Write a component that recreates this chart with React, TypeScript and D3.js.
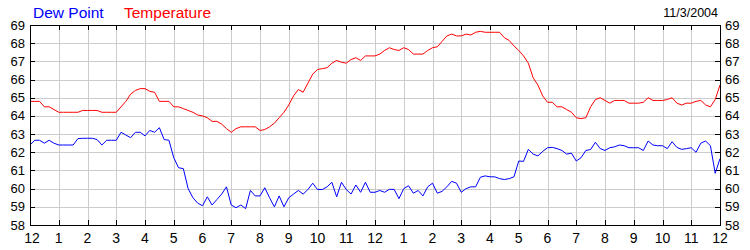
import React from "react";
import * as d3 from "d3";

// 10-minute readings from 12 AM to 12 AM (145 points)
const temperature: number[] = [
  64.8, 64.8, 64.8, 64.5, 64.5, 64.35, // 0h
  64.2, 64.2, 64.2, 64.2, 64.2, 64.3, // 1h
  64.3, 64.3, 64.3, 64.2, 64.2, 64.2, // 2h
  64.2, 64.5, 64.8, 65.2, 65.4, 65.5, // 3h
  65.5, 65.35, 65.3, 64.8, 64.8, 64.8, // 4h
  64.5, 64.5, 64.4, 64.3, 64.2, 64.05, // 5h
  64.0, 63.9, 63.7, 63.7, 63.55, 63.3, // 6h
  63.1, 63.3, 63.4, 63.4, 63.4, 63.4, // 7h
  63.2, 63.25, 63.4, 63.6, 63.9, 64.2, // 8h
  64.6, 65.1, 65.45, 65.3, 65.8, 66.3, // 9h
  66.55, 66.6, 66.65, 66.9, 67.05, 66.95, // 10h
  66.9, 67.1, 67.2, 67.05, 67.3, 67.3, // 11h
  67.3, 67.4, 67.6, 67.75, 67.65, 67.6, // 12h
  67.75, 67.65, 67.4, 67.4, 67.4, 67.6, // 13h
  67.75, 67.8, 68.1, 68.4, 68.5, 68.4, // 14h
  68.4, 68.5, 68.45, 68.6, 68.65, 68.6, // 15h
  68.6, 68.6, 68.6, 68.3, 68.15, 67.85, // 16h
  67.6, 67.3, 66.9, 66.1, 65.7, 65.1, // 17h
  64.75, 64.75, 64.5, 64.5, 64.35, 64.2, // 18h
  63.9, 63.85, 63.9, 64.5, 64.9, 65.0, // 19h
  64.85, 64.7, 64.85, 64.85, 64.85, 64.7, // 20h
  64.7, 64.7, 64.75, 65.0, 64.85, 64.85, // 21h
  64.85, 64.9, 65.0, 64.7, 64.6, 64.7, // 22h
  64.7, 64.8, 64.85, 64.6, 64.5, 64.9, // 23h
  65.7,
];

const dewPoint: number[] = [
  62.4, 62.66, 62.66, 62.5, 62.66, 62.5, // 0h
  62.4, 62.4, 62.4, 62.4, 62.75, 62.77, // 1h
  62.77, 62.77, 62.7, 62.4, 62.66, 62.66, // 2h
  62.66, 63.1, 62.95, 62.8, 63.1, 63.1, // 3h
  62.9, 63.2, 63.1, 63.35, 62.7, 62.66, // 4h
  61.7, 61.15, 61.1, 60.0, 59.5, 59.2, // 5h
  59.06, 59.55, 59.1, 59.4, 59.7, 60.1, // 6h
  59.1, 58.95, 59.1, 58.9, 59.9, 59.6, // 7h
  59.6, 60.05, 59.5, 59.0, 59.6, 59.0, // 8h
  59.5, 59.7, 59.9, 59.7, 59.95, 60.3, // 9h
  59.95, 59.95, 60.1, 60.35, 59.55, 60.35, // 10h
  59.95, 59.7, 60.2, 59.8, 60.35, 59.8, // 11h
  59.8, 59.9, 59.8, 59.96, 59.96, 59.45, // 12h
  60.0, 60.16, 59.75, 59.9, 59.6, 60.1, // 13h
  60.3, 59.75, 59.85, 60.1, 60.4, 60.3, // 14h
  59.8, 60.0, 60.1, 60.1, 60.63, 60.7, // 15h
  60.65, 60.65, 60.55, 60.5, 60.55, 60.65, // 16h
  61.52, 61.5, 62.16, 61.9, 61.8, 62.05, // 17h
  62.25, 62.27, 62.2, 62.1, 61.9, 61.95, // 18h
  61.52, 61.7, 62.1, 62.15, 62.55, 62.2, // 19h
  62.1, 62.25, 62.3, 62.4, 62.36, 62.25, // 20h
  62.25, 62.25, 62.1, 62.62, 62.4, 62.36, // 21h
  62.36, 62.2, 62.58, 62.27, 62.16, 62.2, // 22h
  62.25, 62.0, 62.5, 62.62, 62.36, 60.84, // 23h
  61.65,
];

const hourLabels: string[] = ["12", "1", "2", "3", "4", "5", "6", "7", "8", "9", "10", "11", "12", "1", "2", "3", "4", "5", "6", "7", "8", "9", "10", "11", "12"];
const yTicks: number[] = [58, 59, 60, 61, 62, 63, 64, 65, 66, 67, 68, 69];
const dateLabel = "11/3/2004";
const seriesNames = ["Dew Point", "Temperature"];

const W = 750;
const H = 250;
const L = 30;
const R = 720;
const T = 25;
const B = 225;
const FONT = "'Liberation Sans', Arial, sans-serif";

export default function App() {
  const x = d3.scaleLinear().domain([0, 24]).range([L, R]);
  const y = d3.scaleLinear().domain([58, 69]).range([B, T]);
  const hours = hourLabels.map((_, i) => i);
  const line = d3
    .line<number>()
    .x((_, i) => x(i / 6))
    .y((d) => y(d));

  const px = (v: number) => Math.round(v) + 0.5;

  return (
    <svg
      width={W}
      height={H}
      style={{ position: "absolute", left: 0, top: 0, background: "#fff" }}
      fontFamily={FONT}
    >
      <rect x={0} y={0} width={W} height={H} fill="#fff" />
      {/* grid */}
      {hours.slice(1, -1).map((h) => (
        <line key={"gx" + h} x1={px(x(h))} x2={px(x(h))} y1={T} y2={B} stroke="#cccccc" strokeWidth={1} />
      ))}
      {yTicks.slice(1, -1).map((v) => (
        <line key={"gy" + v} x1={L} x2={R} y1={px(y(v))} y2={px(y(v))} stroke="#cccccc" strokeWidth={1} />
      ))}
      {/* ticks */}
      {hours.map((h) => (
        <g key={"tx" + h}>
          <line x1={px(x(h))} x2={px(x(h))} y1={B} y2={B - 5} stroke="#000" />
          <line x1={px(x(h))} x2={px(x(h))} y1={T} y2={T + 5} stroke="#000" />
        </g>
      ))}
      {yTicks.map((v) => (
        <g key={"ty" + v}>
          <line x1={L} x2={L + 5} y1={px(y(v))} y2={px(y(v))} stroke="#000" />
          <line x1={R} x2={R - 5} y1={px(y(v))} y2={px(y(v))} stroke="#000" />
        </g>
      ))}
      {/* series */}
      <path d={line(temperature) || ""} fill="none" stroke="#ff0000" strokeWidth={1} />
      <path d={line(dewPoint) || ""} fill="none" stroke="#0000ff" strokeWidth={1} />
      {/* frame */}
      <rect x={px(L)} y={px(T)} width={Math.round(R - L)} height={Math.round(B - T)} fill="none" stroke="#000" strokeWidth={1} />
      {/* y labels */}
      {yTicks.map((v) => (
        <g key={"ly" + v}>
          <text x={25} y={y(v) + 4.5} textAnchor="end" fontSize={13} fill="#000">
            {v}
          </text>
          <text x={725} y={y(v) + 4.5} textAnchor="start" fontSize={13} fill="#000">
            {v}
          </text>
        </g>
      ))}
      {/* x labels */}
      {hours.map((h) => (
        <text key={"lx" + h} x={x(h) + (h === 0 ? 2 : 0)} y={243} textAnchor="middle" fontSize={14} fill="#000">
          {hourLabels[h]}
        </text>
      ))}
      {/* title */}
      <text x={33} y={18} fontSize={15.5} fill="#0000ff">
        {seriesNames[0]}
      </text>
      <text x={124} y={18} fontSize={15.5} fill="#ff0000">
        {seriesNames[1]}
      </text>
      <text x={718} y={17} textAnchor="end" fontSize={12.5} fill="#000">
        {dateLabel}
      </text>
    </svg>
  );
}
